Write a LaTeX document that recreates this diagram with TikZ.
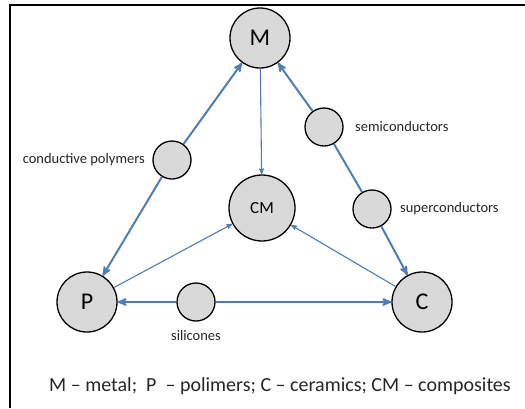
\documentclass[tikz,border=0pt]{standalone}
\usepackage{fontspec}
\setmainfont{Carlito}
\usetikzlibrary{arrows}
\definecolor{officeblue}{RGB}{79,125,180}

\tikzset{
  matnode/.style={circle, draw=black, line width=1.3pt, fill=gray!30, inner sep=0pt, minimum size=60pt, font=\fontsize{24}{28}\selectfont},
  subnode/.style={circle, draw=black, line width=1.3pt, fill=gray!30, inner sep=0pt, minimum size=38pt},
  lbl/.style={font=\fontsize{14.5}{17}\selectfont, text=black!85},
  bigarrow/.style={draw=officeblue, line width=2pt},
  thinarrow/.style={draw=officeblue, line width=1.1pt}
}

\begin{document}
\begin{tikzpicture} [x=1pt, y=-1pt, >=stealth']
\useasboundingbox (0,0) rectangle (525,408);
\draw[black, line width=2.5pt] (10,408)--(10,5)--(525,5);
% main materials
\node[matnode] (M) at (260,38) {M};
\node[matnode, minimum size=66pt, font=\fontsize{17}{20}\selectfont] (CM) at (262,208) {CM};
\node[matnode] (P) at (87,302) {P};
\node[matnode] (C) at (422,302) {C};
% intermediate classes
\node[subnode] (cp) at (172,160) {};
\node[subnode] (semi) at (324,127) {};
\node[subnode] (super) at (372,209) {};
\node[subnode] (sil) at (196,302) {};
\node[lbl, left=4pt] (cpl) at (cp.west) {conductive polymers};
\node[lbl, right=8pt] (semil) at (semi.east) {semiconductors};
\node[lbl, right=5pt] (superl) at (super.east) {superconductors};
\node[lbl, below=5pt] (sill) at (sil.south) {silicones};
% links
\draw[bigarrow, ->] (cp)--(M);
\draw[bigarrow, ->] (cp)--(P);
\draw[bigarrow, ->] (semi)--(M);
\draw[bigarrow] (semi)--(super);
\draw[bigarrow, ->] (super)--(C);
\draw[bigarrow, ->] (sil)--(P);
\draw[bigarrow, ->] (sil)--(C);
\draw[thinarrow, ->] (M)--(CM);
\draw[thinarrow, ->] (P)--(CM);
\draw[thinarrow, ->] (C)--(CM);
% legend
\node[font=\fontsize{20}{24}\selectfont, text=black!85] (legend) at (280,386) {M -- metal;\ \ P \ -- polimers; C -- ceramics; CM -- composites};
\end{tikzpicture}
\end{document}
